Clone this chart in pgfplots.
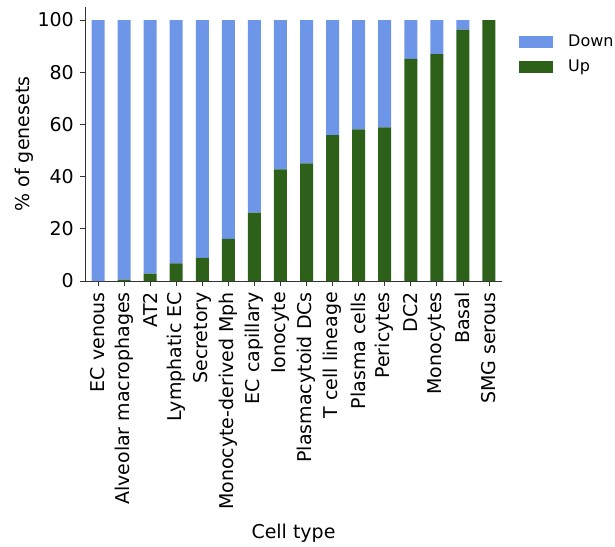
\documentclass[border=0pt]{standalone}
\usepackage{pgfplots}
\pgfplotsset{compat=1.18}
\usepackage{pgfplotstable}
\usepackage{fontspec}
\setmainfont{DejaVu Sans}

\definecolor{downblue}{RGB}{110,150,232}
\definecolor{upgreen}{RGB}{45,97,26}

% share of genesets per cell type (percent)
\pgfplotstableread{
idx up   down
0   0.0  100.0
1   0.5  99.5
2   2.8  97.2
3   6.8  93.2
4   8.9  91.1
5   16.1 83.9
6   26.2 73.8
7   42.8 57.2
8   45.1 54.9
9   55.9 44.1
10  58.1 41.9
11  58.9 41.1
12  85.1 14.9
13  86.9 13.1
14  96.3 3.7
15  100.0 0.0
}\genesets

\begin{document}
\fontsize{19}{23}\selectfont
\begin{tikzpicture}
\useasboundingbox (-85pt,-265pt) rectangle (530pt,281pt);
\begin{axis}[
  at={(0pt,0pt)}, anchor=south west,
  scale only axis, width=417pt, height=274pt,
  ybar stacked, bar width=0.5,
  xmin=-0.5, xmax=15.5, ymin=0, ymax=105,
  axis x line*=bottom, axis y line*=left,
  axis line style={line width=0.8pt, black!80},
  tick align=outside, major tick length=5pt,
  tick style={line width=0.8pt, black!80},
  xtick={0,...,15},
  xticklabels={EC venous, Alveolar macrophages, AT2, Lymphatic EC, Secretory,
    Monocyte-derived Mph, EC capillary, Ionocyte, Plasmacytoid DCs,
    T cell lineage, Plasma cells, Pericytes, DC2, Monocytes, Basal, SMG serous},
  x tick label style={rotate=90, anchor=east, inner sep=0pt, xshift=-6pt},
  ytick={0,20,40,60,80,100},
  y tick label style={inner sep=0pt, xshift=-6pt},
  /pgf/number format/assume math mode=true,
  xlabel={Cell type},
  ylabel={\% of genesets},
  every axis x label/.style={at={(rel axis cs:0.5,0)}, yshift=-252pt, anchor=center},
  every axis y label/.style={at={(rel axis cs:0,0.5)}, xshift=-61pt, rotate=90, anchor=center},
  legend style={draw=none, fill=none, at={(rel axis cs:1,1)}, anchor=north west,
    xshift=17pt, yshift=-25pt, row sep=5pt, inner sep=0pt,
    font=\fontsize{16}{19}\selectfont,
    nodes={inner sep=2pt, text height=12pt, text depth=4pt},
    legend cell align=left,
    /tikz/every odd column/.append style={column sep=13pt}},
  legend image code/.code={\fill[#1] (0pt,-6pt) rectangle (34pt,6pt);},
  reverse legend,
]
\addplot[fill=upgreen, draw=none] table[x=idx, y=up] {\genesets};
\addplot[fill=downblue, draw=none] table[x=idx, y=down] {\genesets};
\legend{Up, Down}
\end{axis}
\end{tikzpicture}
\end{document}
